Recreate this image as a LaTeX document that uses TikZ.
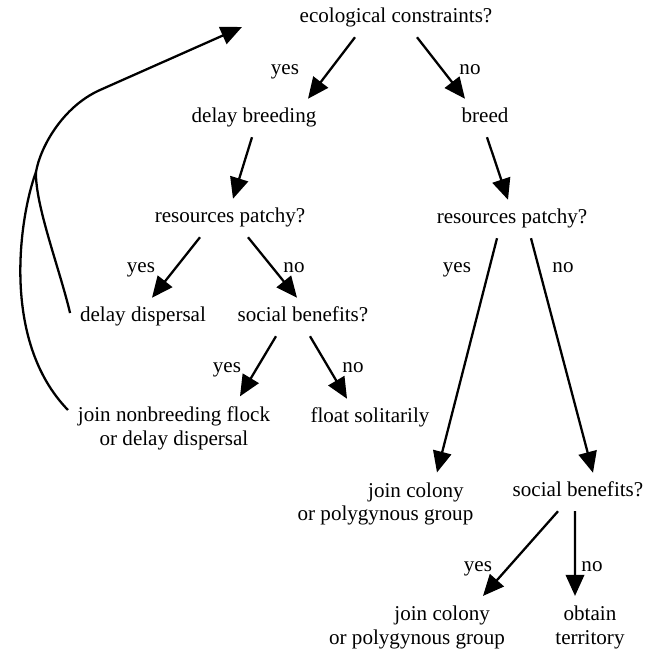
\documentclass[tikz,border=0pt]{standalone}
\usepackage{fontspec}
\setmainfont{Liberation Serif}
\usepackage{tikz}
\usetikzlibrary{arrows.meta, positioning, calc}
\tikzset{
  choice/.style={inner sep=5.5pt, text height=8pt, text depth=2.5pt},
  outcome/.style={inner sep=5.5pt, align=center},
  answer/.style={inner sep=1pt, text height=8pt, text depth=2.5pt},
  flow/.style={-{Triangle[length=12pt, width=10.5pt]}, line width=1.3pt},
  backline/.style={line width=1.3pt}
}

\begin{document}
\begin{tikzpicture}[x=0.02cm, y=-0.02cm, font=\rmfamily\fontsize{12}{13.6}\selectfont]
  \useasboundingbox (0,0) rectangle (656,653);

  % questions and outcomes
  \node[choice] (ecol) at (396,18) {ecological constraints?};
  \node[choice] (delaybr) at (254,118) {delay breeding};
  \node[choice] (breed) at (485,118) {breed};
  \node[choice] (patchyL) at (230,218) {resources patchy?};
  \node[choice] (patchyR) at (512,219) {resources patchy?};
  \node[choice] (dispersal) at (143,317) {delay dispersal};
  \node[choice] (socialL) at (303,317) {social benefits?};
  \node[outcome] (flock) at (174,428) {join nonbreeding flock\\or delay dispersal};
  \node[choice] (solitary) at (370,418) {float solitarily};
  \node[outcome, align=right] (colonyA) at (385.5,504)
    {join colony\hspace*{5.5pt}\\or polygynous group};
  \node[choice] (socialR) at (578,492) {social benefits?};
  \node[outcome, align=right] (colonyB) at (417,627.5)
    {join colony\hspace*{8.5pt}\\or polygynous group};
  \node[outcome] (territory) at (590,627.5) {obtain\\territory};

  % yes / no
  \node[answer] (yesA) at (285,70) {yes};
  \node[answer] (noA) at (470,70) {no};
  \node[answer] (yesB) at (141,268) {yes};
  \node[answer] (noB) at (294,268) {no};
  \node[answer] (yesC) at (227,368) {yes};
  \node[answer] (noC) at (353,368) {no};
  \node[answer] (yesD) at (457,268) {yes};
  \node[answer] (noD) at (563,268) {no};
  \node[answer] (yesE) at (478,567) {yes};
  \node[answer] (noE) at (592,567) {no};

  % arrows
  \draw[flow] ([xshift=-0.82cm]ecol.south) -- ([xshift=1.08cm]delaybr.north);
  \draw[flow] ([xshift=0.42cm]ecol.south) -- ([xshift=-0.4cm]breed.north);
  \draw[flow] ([xshift=-0.04cm]delaybr.south) -- ([xshift=0.06cm]patchyL.north);
  \draw[flow] ([xshift=0.04cm]breed.south) -- ([xshift=-0.08cm]patchyR.north);
  \draw[flow] ([xshift=-0.6cm]patchyL.south) -- ([xshift=0.18cm]dispersal.north);
  \draw[flow] ([xshift=0.36cm]patchyL.south) -- ([xshift=-0.12cm]socialL.north);
  \draw[flow] ([xshift=-0.54cm]socialL.south) -- ([xshift=1.32cm]flock.north);
  \draw[flow] ([xshift=0.14cm]socialL.south) -- ([xshift=-0.46cm]solitary.north);
  \draw[flow] ([xshift=-0.3cm]patchyR.south) -- ([xshift=1.03cm]colonyA.north);
  \draw[flow] ([xshift=0.38cm]patchyR.south) -- ([xshift=0.3cm]socialR.north);
  \draw[flow] ([xshift=-0.4cm]socialR.south) -- ([xshift=1.32cm]colonyB.north);
  \draw[flow] ([xshift=-0.06cm]socialR.south) -- ([xshift=-0.3cm]territory.north);

  % feedback to the first question
  \coordinate (merge) at (36,172);
  \coordinate (bend) at (100,90);
  \coordinate (back) at (242,27);
  \draw[backline] ([yshift=0.08cm]dispersal.west) .. controls (60,270) and (35,205) .. (merge);
  \draw[backline] ([yshift=0.36cm]flock.west) .. controls (0,340) and (20,215) .. (merge);
  \draw[flow] (merge) .. controls (40,148) and (62,107) .. (bend) -- (back);
\end{tikzpicture}
\end{document}
